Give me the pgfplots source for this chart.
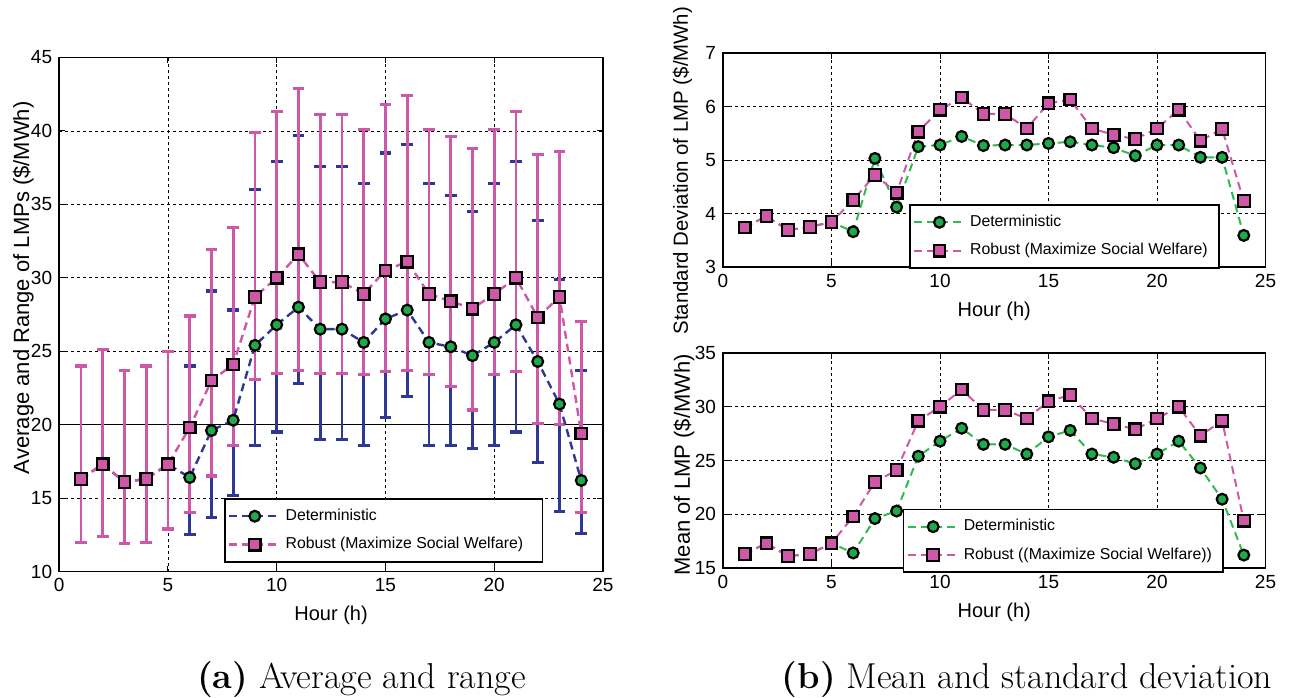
\documentclass[border=0pt]{standalone}
\usepackage{pgfplots}
\pgfplotsset{compat=1.18}
\usepackage{pgfplotstable}
\usepackage{fontspec}
\newfontfamily\arialf{Liberation Sans}
\definecolor{detblue}{RGB}{45,55,150}
\definecolor{robpink}{RGB}{207,87,167}
\definecolor{detgreen}{RGB}{30,170,75}
\definecolor{linegreen}{RGB}{50,185,80}

\pgfplotstableread{
h m hi lo
1 16.3 24.0 12.0
2 17.3 25.1 12.4
3 16.1 23.7 11.9
4 16.3 24.0 12.0
5 17.3 25.0 12.9
6 19.8 27.4 14.0
7 23.0 31.9 16.5
8 24.1 33.4 18.6
9 28.7 39.9 23.1
10 30.0 41.3 23.5
11 31.6 42.9 23.7
12 29.7 41.1 23.5
13 29.7 41.1 23.5
14 28.9 40.1 23.4
15 30.5 41.8 23.6
16 31.1 42.4 23.7
17 28.9 40.1 23.4
18 28.4 39.6 22.6
19 27.9 38.8 21.0
20 28.9 40.1 23.4
21 30.0 41.3 23.6
22 27.3 38.4 20.1
23 28.7 38.6 20.0
24 19.4 27.0 14.0
}\rob

\pgfplotstableread{
h m hi lo
1 16.3 24.0 12.0
2 17.3 25.1 12.4
3 16.1 23.7 11.9
4 16.3 24.0 12.0
5 17.3 25.0 12.9
6 16.4 24.0 12.5
7 19.6 29.1 13.7
8 20.3 27.8 15.2
9 25.4 36.0 18.6
10 26.8 37.9 19.5
11 28.0 39.7 22.8
12 26.5 37.6 19.0
13 26.5 37.6 19.0
14 25.6 36.4 18.6
15 27.2 38.5 20.5
16 27.8 39.1 21.9
17 25.6 36.4 18.6
18 25.3 35.6 18.6
19 24.7 34.5 18.4
20 25.6 36.4 18.6
21 26.8 37.9 19.5
22 24.3 33.9 17.4
23 21.4 29.9 14.1
24 16.2 23.7 12.6
}\det

\pgfplotstableread{
h det rob
1 3.74 3.74
2 3.95 3.95
3 3.69 3.69
4 3.75 3.75
5 3.84 3.84
6 3.66 4.25
7 5.03 4.72
8 4.12 4.39
9 5.25 5.53
10 5.28 5.94
11 5.44 6.17
12 5.27 5.86
13 5.28 5.86
14 5.28 5.59
15 5.31 6.06
16 5.34 6.13
17 5.28 5.59
18 5.23 5.47
19 5.08 5.39
20 5.28 5.59
21 5.28 5.94
22 5.05 5.36
23 5.05 5.58
24 3.59 4.23
}\sd

\pgfplotsset{
  myax/.style={
    scale only axis,
    xmin=0, xmax=25, xtick={0,5,...,25},
    grid=major,
    grid style={black, line width=0.4pt, dash pattern=on 1.5pt off 1.5pt},
    axis line style={line width=0.9pt},
    tick align=inside, major tick length=3pt,
    tick style={black, line width=0.5pt},
    tick label style={font=\arialf\fontsize{9.5}{11}\selectfont},
    label style={font=\arialf\fontsize{10}{12}\selectfont},
    /pgf/number format/assume math mode=true,
    xlabel={Hour (h)},
    xlabel style={at={(axis description cs:0.5,0)}, anchor=center, yshift=-22pt},
    legend cell align=left,
    legend style={font=\arialf\fontsize{7.9}{9.5}\selectfont, draw=black, line width=0.9pt,
      inner xsep=1.5pt, inner ysep=3pt, row sep=3pt},
    legend image code/.code={\draw[mark repeat=2,mark phase=2,#1] plot coordinates {(0cm,0cm) (0.45cm,0cm) (0.9cm,0cm)};},
  },
  circ/.style={mark=*, mark size=2.7pt, mark options={solid, fill=detgreen, draw=black, line width=1.1pt}},
  sq/.style={mark=square*, mark size=2.9pt, mark options={solid, fill=robpink, draw=black, line width=1.1pt}},
}

\begin{document}
\begin{tikzpicture}
\useasboundingbox (0,0) rectangle (645pt,348.5pt);

% (a) left
\begin{axis}[myax, at={(29.6pt,62.75pt)}, anchor=south west,
  width=271.9pt, height=257pt,
  ymin=10, ymax=45, ytick={10,15,...,45},
  ylabel={Average and Range of LMPs (\$/MWh)},
  ylabel style={font=\arialf\fontsize{11}{13}\selectfont, at={(axis description cs:-0.066,0.552)}, anchor=center},
  legend style={at={(axis cs:7.58,15)}, anchor=north west},
]
\addplot[black, line width=0.6pt, forget plot] coordinates {(0,20) (25,20)};
\addplot[detblue, only marks, mark=none, forget plot,
  error bars/.cd, y dir=both, y explicit,
  error bar style={line width=1.3pt, detblue},
  error mark options={rotate=90, mark size=2.9pt, line width=1.6pt, detblue}]
  table[x=h, y=m, y error plus expr=\thisrow{hi}-\thisrow{m}, y error minus expr=\thisrow{m}-\thisrow{lo}] {\det};
\addplot[robpink, only marks, mark=none, forget plot,
  error bars/.cd, y dir=both, y explicit,
  error bar style={line width=1.3pt, robpink},
  error mark options={rotate=90, mark size=2.9pt, line width=1.6pt, robpink}]
  table[x=h, y=m, y error plus expr=\thisrow{hi}-\thisrow{m}, y error minus expr=\thisrow{m}-\thisrow{lo}] {\rob};
\addplot[detblue, line width=1.2pt, dash pattern=on 4pt off 2.5pt, circ] table[x=h, y=m] {\det};
\addlegendentry{\makebox[125pt][l]{Deterministic}}
\addplot[robpink, line width=1.2pt, dash pattern=on 4pt off 2.5pt, sq] table[x=h, y=m] {\rob};
\addlegendentry{\makebox[125pt][l]{Robust (Maximize Social Welfare)}}
\end{axis}

% (b) top right
\begin{axis}[myax, at={(361.5pt,215pt)}, anchor=south west,
  width=271.25pt, height=107pt,
  ymin=3, ymax=7, ytick={3,4,...,7},
  ylabel={Standard Deviation of LMP (\$/MWh)},
  ylabel style={font=\arialf\fontsize{10.2}{12}\selectfont, at={(axis description cs:-0.075,0.45)}, anchor=center},
  legend style={at={(axis cs:8.57,4.175)}, anchor=north west},
]
\addplot[linegreen, line width=1pt, dash pattern=on 4pt off 2.5pt, circ] table[x=h, y=det] {\sd};
\addlegendentry{\makebox[121pt][l]{Deterministic}}
\addplot[robpink, line width=1pt, dash pattern=on 4pt off 2.5pt, sq] table[x=h, y=rob] {\sd};
\addlegendentry{\makebox[121pt][l]{Robust (Maximize Social Welfare)}}
\end{axis}

% (b) bottom right
\begin{axis}[myax, at={(361.5pt,64.5pt)}, anchor=south west,
  width=271.25pt, height=107.5pt,
  ymin=15, ymax=35, ytick={15,20,...,35},
  ylabel={Mean of LMP (\$/MWh)},
  ylabel style={font=\arialf\fontsize{11}{13}\selectfont, at={(axis description cs:-0.072,0.48)}, anchor=center},
  legend style={at={(axis cs:8.28,20.53)}, anchor=north west},
]
\addplot[linegreen, line width=1pt, dash pattern=on 4pt off 2.5pt, circ] table[x=h, y=m] {\det};
\addlegendentry{\makebox[126pt][l]{Deterministic}}
\addplot[robpink, line width=1pt, dash pattern=on 4pt off 2.5pt, sq] table[x=h, y=m] {\rob};
\addlegendentry{\makebox[126pt][l]{Robust ((Maximize Social Welfare))}}
\end{axis}

\node[anchor=base, font=\fontsize{18}{21}\selectfont] at (180.75pt,4.5pt) {\textbf{(a)} Average and range};
\node[anchor=base, font=\fontsize{18}{21}\selectfont] at (513.5pt,4.5pt) {\textbf{(b)} Mean and standard deviation};
\end{tikzpicture}
\end{document}
